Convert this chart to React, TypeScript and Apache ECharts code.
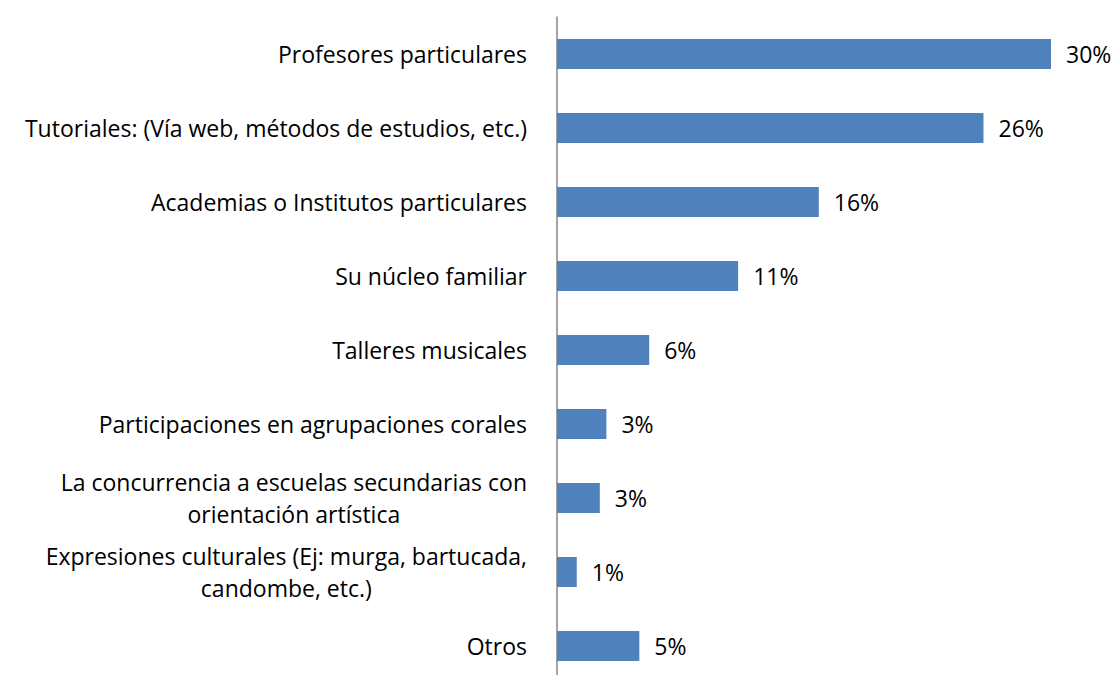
import React, { useEffect, useRef } from "react";
import * as echarts from "echarts";

const categories = [
  "Profesores particulares",
  "Tutoriales: (Vía web, métodos de estudios, etc.)",
  "Academias o Institutos particulares",
  "Su núcleo familiar",
  "Talleres musicales",
  "Participaciones en agrupaciones corales",
  "La concurrencia a escuelas secundarias con\norientación artística",
  "Expresiones culturales (Ej: murga, bartucada,\ncandombe, etc.)",
  "Otros",
];

const values = [30, 25.9, 15.9, 11.0, 5.6, 3.0, 2.6, 1.2, 5.0];
const valueLabels = ["30%", "26%", "16%", "11%", "6%", "3%", "3%", "1%", "5%"];

const FONT = "Open Sans";
const FS = 23;

export default function App() {
  const ref = useRef<HTMLDivElement>(null);
  useEffect(() => {
    if (!ref.current) return;
    const chart = echarts.init(ref.current, undefined, { renderer: "svg" });
    chart.setOption({
      animation: false,
      backgroundColor: "#ffffff",
      grid: { left: 557, width: 494, top: 17, height: 666, containLabel: false },
      xAxis: {
        type: "value",
        min: 0,
        max: 30,
        show: false,
      },
      yAxis: {
        type: "category",
        inverse: true,
        data: categories,
        axisLine: { show: true, lineStyle: { color: "#868686", width: 1.5 } },
        axisTick: { show: false },
        splitLine: { show: false },
        axisLabel: {
          margin: 30,
          color: "#000000",
          fontSize: FS,
          fontFamily: FONT,
          lineHeight: 32,
          formatter: (v: string) =>
            v.indexOf("\n") >= 0
              ? v
                  .split("\n")
                  .map((s) => "{c|" + s + "}")
                  .join("\n")
              : v,
          rich: {
            c: {
              align: "center",
              color: "#000000",
              fontSize: FS,
              fontFamily: FONT,
              lineHeight: 32,
            },
          },
        },
      },
      series: [
        {
          type: "bar",
          data: values,
          barWidth: 30,
          itemStyle: { color: "#4F81BD" },
          label: {
            show: true,
            position: "right",
            distance: 15,
            color: "#000000",
            fontSize: FS,
            fontFamily: FONT,
            formatter: (p: any) => valueLabels[p.dataIndex],
          },
        },
      ],
    });
    return () => chart.dispose();
  }, []);
  return (
    <div
      style={{
        position: "absolute",
        left: 0,
        top: 0,
        width: 1116,
        height: 675,
        overflow: "hidden",
        background: "#ffffff",
      }}
    >
      <div ref={ref} style={{ width: 1116, height: 690 }} />
    </div>
  );
}
